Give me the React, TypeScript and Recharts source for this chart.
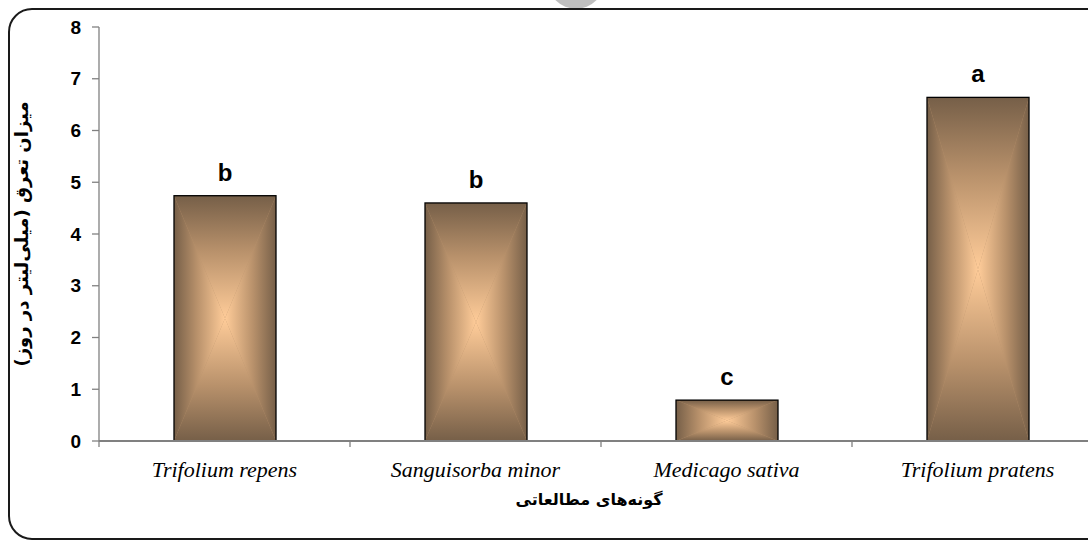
import { BarChart, Bar, XAxis, YAxis, LabelList } from 'recharts';

const species = ['Trifolium repens', 'Sanguisorba minor', 'Medicago sativa', 'Trifolium pratens'];
const transpiration = [4.74, 4.6, 0.79, 6.64];
const letters = ['b', 'b', 'c', 'a'];
const yTicks = [0, 1, 2, 3, 4, 5, 6, 7, 8];

const Y_TITLE = 'میزان تعرق (میلی‌لیتر در روز)';
const X_TITLE = 'گونه‌های مطالعاتی';

const data = species.map((name, i) => ({ name, value: transpiration[i], letter: letters[i] }));

const W = 1110;
const H = 540;
const M = { top: 27, right: 7, left: 0, bottom: 39 };
const Y_W = 99;
const X_H = 60;
const BAND = (W - M.left - M.right - Y_W) / species.length;

const EDGE = '#765f48';
const MID = '#b8916b';
const CENTER = '#FFCC99';
const AXIS = '#808080';
const SANS = '"Liberation Sans", Arial, sans-serif';
const PERSIAN = '"DejaVu Sans", sans-serif';

// four triangles meeting in the middle -> rectangular gradient like Excel
function GradientBar(props: any) {
  const { x, y, width, height } = props;
  if (!width || !height) return null;
  const cx = x + width / 2;
  const cy = y + height / 2;
  return (
    <g>
      <rect x={x} y={y} width={width} height={height} fill={MID} />
      <polygon points={`${x},${y} ${x + width},${y} ${cx},${cy}`} fill="url(#gTop)" />
      <polygon points={`${x},${y + height} ${x + width},${y + height} ${cx},${cy}`} fill="url(#gBottom)" />
      <polygon points={`${x},${y} ${x},${y + height} ${cx},${cy}`} fill="url(#gLeft)" />
      <polygon points={`${x + width},${y} ${x + width},${y + height} ${cx},${cy}`} fill="url(#gRight)" />
      <rect x={x} y={y} width={width} height={height} fill="none" stroke="#000" strokeWidth={1.3} />
    </g>
  );
}

function XTick(props: any) {
  const { x, y, payload } = props;
  const left = x - BAND / 2;
  return (
    <g>
      <line x1={left} y1={y} x2={left} y2={y + 6} stroke={AXIS} strokeWidth={1.3} />
      <text
        x={x}
        y={y + 36}
        textAnchor="middle"
        fill="#000"
        style={{ fontFamily: '"Liberation Serif", "Times New Roman", serif', fontStyle: 'italic', fontSize: 22 }}
      >
        {payload.value}
      </text>
    </g>
  );
}

function Grad({ id, x1, y1, x2, y2 }: { id: string; x1: string; y1: string; x2: string; y2: string }) {
  return (
    <linearGradient id={id} x1={x1} y1={y1} x2={x2} y2={y2}>
      <stop offset="0%" stopColor={EDGE} />
      <stop offset="45%" stopColor={MID} />
      <stop offset="100%" stopColor={CENTER} />
    </linearGradient>
  );
}

export default function App() {
  return (
    <div style={{ position: 'fixed', left: 0, top: 0, width: 1088, height: 540, overflow: 'hidden', background: '#fff' }}>
      <div
        style={{
          position: 'absolute',
          left: 548,
          top: -47,
          width: 56,
          height: 56,
          borderRadius: '50%',
          background: '#BFBFBF',
        }}
      />
      <div
        style={{
          position: 'absolute',
          left: 8,
          top: 8,
          width: 1110,
          height: 528,
          border: '2px solid #1a1a1a',
          borderRadius: 24,
        }}
      />
      <div style={{ position: 'absolute', left: 0, top: 0 }}>
        <BarChart width={W} height={H} data={data} margin={M}>
          <defs>
            <Grad id="gTop" x1="0" y1="0" x2="0" y2="1" />
            <Grad id="gBottom" x1="0" y1="1" x2="0" y2="0" />
            <Grad id="gLeft" x1="0" y1="0" x2="1" y2="0" />
            <Grad id="gRight" x1="1" y1="0" x2="0" y2="0" />
          </defs>
          <XAxis
            dataKey="name"
            height={X_H}
            tickSize={0}
            tickMargin={0}
            tickLine={false}
            axisLine={{ stroke: AXIS, strokeWidth: 2 }}
            tick={<XTick />}
            interval={0}
            label={{
              content: (p: any) => {
                const vb = p.viewBox;
                return (
                  <text
                    x={vb.x + vb.width / 2 - 12}
                    y={505}
                    textAnchor="middle"
                    fill="#000"
                    style={{ fontFamily: PERSIAN, fontWeight: 'bold', fontSize: 16, direction: 'rtl' }}
                  >
                    {X_TITLE}
                  </text>
                );
              },
            }}
          />
          <YAxis
            width={Y_W}
            domain={[0, 8]}
            ticks={yTicks}
            interval={0}
            tickSize={7}
            tickMargin={11}
            axisLine={{ stroke: AXIS, strokeWidth: 1.3 }}
            tickLine={{ stroke: AXIS, strokeWidth: 1.3 }}
            tick={{ fill: '#000', fontFamily: SANS, fontWeight: 'bold', fontSize: 19 }}
            label={{
              content: (p: any) => {
                const vb = p.viewBox;
                const cy = vb.y + vb.height / 2;
                return (
                  <text
                    x={23}
                    y={cy}
                    transform={`rotate(-90, 23, ${cy})`}
                    textAnchor="middle"
                    dominantBaseline="middle"
                    fill="#000"
                    style={{ fontFamily: PERSIAN, fontWeight: 'bold', fontSize: 18, direction: 'rtl' }}
                  >
                    {Y_TITLE}
                  </text>
                );
              },
            }}
          />
          <Bar dataKey="value" barSize={102} shape={<GradientBar />} isAnimationActive={false}>
            <LabelList
              dataKey="letter"
              position="top"
              offset={15}
              fill="#000"
              style={{ fontFamily: SANS, fontWeight: 'bold', fontSize: 24 }}
            />
          </Bar>
        </BarChart>
      </div>
    </div>
  );
}
